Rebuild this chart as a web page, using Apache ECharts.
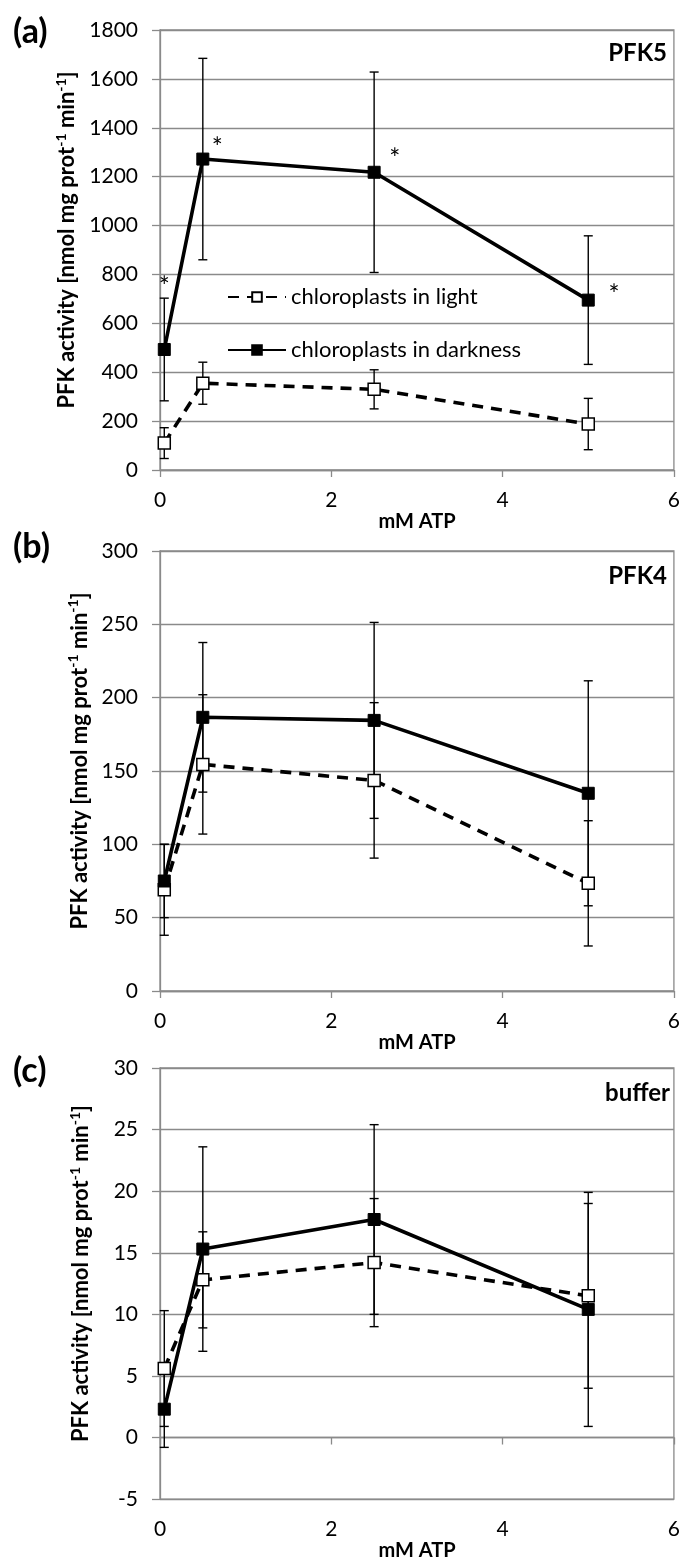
<!DOCTYPE html>
<html>
<head>
<meta charset="utf-8">
<script src="https://cdn.jsdelivr.net/npm/echarts@6/dist/echarts.min.js"></script>
<style>
	html, body { margin: 0; padding: 0; background: #fff; }
	#chart { width: 683px; height: 1562px; }
</style>
</head>
<body>
<div id="chart"></div>
<script>
// x positions (mM ATP)
const atp = [ 0.05, 0.5, 2.5, 5 ];

// (a) PFK5
const pfk5Light = [ 110, 355, 330, 188 ];
const pfk5LightErr = [ 63, 86, 80, 105 ];
const pfk5Dark = [ 493, 1272, 1218, 695 ];
const pfk5DarkErr = [ 210, 412, 410, 263 ];
const pfk5Stars = [ [ 0.05, 745 ], [ 0.67, 1315 ], [ 2.74, 1270 ], [ 5.3, 715 ] ];

// (b) PFK4
const pfk4Light = [ 69, 154.5, 143.6, 73.4 ];
const pfk4LightErr = [ 31, 47.5, 53, 42.7 ];
const pfk4Dark = [ 75, 186.6, 184.5, 134.8 ];
const pfk4DarkErr = [ 25, 51, 66.8, 76.7 ];

// (c) buffer
const bufLight = [ 5.6, 12.8, 14.2, 11.5 ];
const bufLightErr = [ 4.7, 3.9, 5.2, 7.5 ];
const bufDark = [ 2.3, 15.3, 17.7, 10.4 ];
const bufDarkErr = [ 3.1, 8.3, 7.7, 9.5 ];

const panelLabels = [ '(a)', '(b)', '(c)' ];
const panelNames = [ 'PFK5', 'PFK4', 'buffer' ];
const yRanges = [ [ 0, 1800, 200 ], [ 0, 300, 50 ], [ -5, 30, 5 ] ];
const lightName = 'chloroplasts in light';
const darkName = 'chloroplasts in darkness';

const FONT = 'Lato';
const GRID_COLOR = '#8a8a8a';

const grids = [
	{ left: 160, top: 30, width: 517, height: 440 },
	{ left: 160, top: 551, width: 517, height: 440 },
	{ left: 160, top: 1068, width: 517, height: 441 }
];
const labelTops = [ 15, 530, 1054 ];
const nameTops = [ 41, 564, 1081 ];
const nameRights = [ 16, 16, 13 ];

const pairs = ( ys ) => ys.map( ( y, i ) => [ atp[ i ], y ] );
const errRows = ( ys, errs ) => ys.map( ( y, i ) => [ atp[ i ], y - errs[ i ], y + errs[ i ] ] );

const renderErr = ( params, api ) => {
	const x = api.value( 0 );
	const lo = api.coord( [ x, api.value( 1 ) ] );
	const hi = api.coord( [ x, api.value( 2 ) ] );
	const hw = 4.5;
	const style = { stroke: '#000', lineWidth: 1.4 };
	return {
		type: 'group',
		children: [
			{ type: 'line', shape: { x1: lo[ 0 ], y1: lo[ 1 ], x2: hi[ 0 ], y2: hi[ 1 ] }, style },
			{ type: 'line', shape: { x1: lo[ 0 ] - hw, y1: lo[ 1 ], x2: lo[ 0 ] + hw, y2: lo[ 1 ] }, style },
			{ type: 'line', shape: { x1: hi[ 0 ] - hw, y1: hi[ 1 ], x2: hi[ 0 ] + hw, y2: hi[ 1 ] }, style }
		]
	};
};

const renderStar = ( params, api ) => {
	const pt = api.coord( [ api.value( 0 ), api.value( 1 ) ] );
	return {
		type: 'text',
		x: pt[ 0 ],
		y: pt[ 1 ],
		style: {
			text: '*', fill: '#000', font: '26px ' + FONT,
			align: 'center', verticalAlign: 'middle'
		}
	};
};

const tickFont = { fontFamily: FONT, fontSize: 21, color: '#000' };
const boldFont = { fontFamily: FONT, fontSize: 20, fontWeight: 'bold', color: '#000' };

const xAxes = [];
const yAxes = [];
const series = [];
const titles = [];

const panels = [
	[ pfk5Light, pfk5LightErr, pfk5Dark, pfk5DarkErr ],
	[ pfk4Light, pfk4LightErr, pfk4Dark, pfk4DarkErr ],
	[ bufLight, bufLightErr, bufDark, bufDarkErr ]
];

panels.forEach( ( [ light, lightErr, dark, darkErr ], p ) => {
	const [ ymin, ymax, yint ] = yRanges[ p ];
	const axisIdx = xAxes.length;
	// axis line + ticks (sits on y = 0)
	xAxes.push( {
		gridIndex: p, type: 'value', min: 0, max: 6, interval: 2,
		position: 'bottom',
		axisLine: { show: true, onZero: true, lineStyle: { color: GRID_COLOR, width: 1.3 } },
		axisTick: { show: true, length: 7, lineStyle: { color: GRID_COLOR, width: 1.3 } },
		axisLabel: { show: false },
		splitLine: { show: false }
	} );
	// labels + name at bottom of plot
	xAxes.push( {
		gridIndex: p, type: 'value', min: 0, max: 6, interval: 2,
		position: 'bottom',
		axisLine: { show: false, onZero: false },
		axisTick: { show: false },
		axisLabel: Object.assign( { margin: 20 }, tickFont ),
		splitLine: { show: false },
		name: 'mM ATP',
		nameLocation: 'middle',
		nameGap: 32,
		nameTextStyle: boldFont
	} );
	yAxes.push( {
		gridIndex: p, type: 'value', min: ymin, max: ymax, interval: yint,
		axisLine: { show: true, lineStyle: { color: GRID_COLOR, width: 1.3 } },
		axisTick: { show: true, length: 8, lineStyle: { color: GRID_COLOR, width: 1.3 } },
		axisLabel: Object.assign( { margin: 22, formatter: ( v ) => String( v ) }, tickFont ),
		splitLine: { show: true, lineStyle: { color: GRID_COLOR, width: 1.3 } },
		name: '{b|PFK activity [nmol mg prot}{s|-1}{b| min}{s|-1}{b|]}',
		nameLocation: 'middle',
		nameGap: 66,
		nameTextStyle: {
			padding: [ 0, 0, 0, 20 ],
			rich: {
				b: { fontFamily: FONT, fontSize: 22, fontWeight: 'bold', color: '#000', lineHeight: 26 },
				s: { fontFamily: FONT, fontSize: 14, fontWeight: 'bold', color: '#000', lineHeight: 14, verticalAlign: 'top' }
			}
		}
	} );

	series.push( {
		type: 'custom', xAxisIndex: axisIdx, yAxisIndex: p, renderItem: renderErr,
		data: errRows( light, lightErr ), encode: { x: 0, y: [ 1, 2 ] }, z: 1, silent: true
	} );
	series.push( {
		type: 'custom', xAxisIndex: axisIdx, yAxisIndex: p, renderItem: renderErr,
		data: errRows( dark, darkErr ), encode: { x: 0, y: [ 1, 2 ] }, z: 1, silent: true
	} );
	series.push( {
		name: lightName, type: 'line', xAxisIndex: axisIdx, yAxisIndex: p,
		data: pairs( light ), symbol: 'rect', symbolSize: 12, z: 3,
		lineStyle: { color: '#000', width: 3.6, type: [ 11, 8 ] },
		itemStyle: { color: '#fff', borderColor: '#000', borderWidth: 1.5 },
		animation: false
	} );
	series.push( {
		name: darkName, type: 'line', xAxisIndex: axisIdx, yAxisIndex: p,
		data: pairs( dark ), symbol: 'rect', symbolSize: 12, z: 4,
		lineStyle: { color: '#000', width: 3.6 },
		itemStyle: { color: '#000', borderColor: '#000', borderWidth: 1 },
		animation: false
	} );

	titles.push( {
		text: panelLabels[ p ], left: 13, top: labelTops[ p ], padding: 0,
		textStyle: { fontFamily: FONT, fontSize: 34, fontWeight: 'bold', color: '#000' }
	} );
	titles.push( {
		text: panelNames[ p ], right: nameRights[ p ], top: nameTops[ p ], padding: 0,
		textStyle: { fontFamily: FONT, fontSize: 24, fontWeight: 'bold', color: '#000' }
	} );
} );

// significance asterisks in (a)
series.push( {
	type: 'custom', xAxisIndex: 0, yAxisIndex: 0, renderItem: renderStar,
	data: pfk5Stars, encode: { x: 0, y: 1 }, z: 5, silent: true
} );

const chart = echarts.init( document.getElementById( 'chart' ), null, { renderer: 'canvas' } );
chart.setOption( {
	animation: false,
	backgroundColor: '#fff',
	title: titles,
	grid: grids.map( ( g ) => Object.assign( { show: true, borderColor: GRID_COLOR, borderWidth: 1.3 }, g ) ),
	xAxis: xAxes,
	yAxis: yAxes,
	legend: {
		data: [ lightName, darkName ],
		orient: 'vertical',
		left: 227,
		top: 286,
		itemWidth: 58,
		itemHeight: 12,
		itemGap: 31,
		padding: 0,
		textStyle: { fontFamily: FONT, fontSize: 22, color: '#000' }
	},
	series
} );
</script>
</body>
</html>
